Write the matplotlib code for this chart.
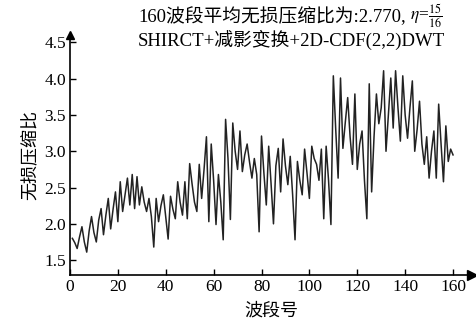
import matplotlib
matplotlib.use('Agg')
import matplotlib.pyplot as plt

plt.rcParams['font.family'] = ['Liberation Serif', 'Noto Sans CJK SC']
plt.rcParams['mathtext.fontset'] = 'stix'

# band number 1..160 and lossless compression ratio
bands = list(range(1, 161))
ratio = [
    1.80, 1.74, 1.66, 1.82, 1.96, 1.75, 1.61, 1.90, 2.10, 1.88,
    1.75, 2.05, 2.21, 1.85, 2.12, 2.35, 1.93, 2.20, 2.44, 2.03,
    2.58, 2.17, 2.40, 2.63, 2.26, 2.68, 2.21, 2.65, 2.26, 2.51,
    2.30, 2.17, 2.35, 2.10, 1.68, 2.35, 2.03, 2.25, 2.40, 2.10,
    1.79, 2.38, 2.20, 2.07, 2.58, 2.30, 2.12, 2.58, 2.07, 2.83,
    2.55, 2.30, 2.17, 2.82, 2.35, 2.75, 3.20, 2.03, 3.10, 2.60,
    1.99, 2.68, 2.30, 1.78, 3.44, 2.90, 2.06, 3.39, 3.00, 2.75,
    3.28, 2.72, 2.95, 3.10, 2.85, 2.63, 2.90, 2.68, 1.89, 3.21,
    2.70, 2.26, 3.07, 2.55, 2.00, 2.80, 3.04, 2.44, 3.17, 2.80,
    2.54, 2.93, 2.40, 1.78, 2.86, 2.60, 2.40, 3.03, 2.70, 2.35,
    3.07, 2.90, 2.82, 2.60, 3.03, 2.07, 3.07, 2.60, 1.99, 4.04,
    3.30, 2.63, 4.01, 3.04, 3.40, 3.74, 3.20, 2.82, 3.79, 2.75,
    3.10, 3.28, 2.60, 2.07, 3.93, 2.44, 3.20, 3.79, 3.38, 3.60,
    4.11, 3.00, 3.50, 4.01, 3.32, 4.11, 3.60, 3.14, 4.04, 3.50,
    3.18, 3.60, 3.97, 3.00, 3.30, 3.69, 3.10, 2.82, 3.20, 2.63,
    3.00, 3.28, 2.63, 3.65, 3.10, 2.58, 3.35, 2.86, 3.03, 2.95,
]

xticks = [0, 20, 40, 60, 80, 100, 120, 140, 160]
yticks = [1.5, 2.0, 2.5, 3.0, 3.5, 4.0, 4.5]

fig = plt.figure(figsize=(4.76, 3.29), dpi=100)
ax = fig.add_axes([0.147, 0.164, 0.845, 0.729])

ax.plot(bands, ratio, color='#222222', lw=1.1)

ax.set_xlim(0, 168)
ax.set_ylim(1.294, 4.6)
ax.set_xticks(xticks)
ax.set_yticks(yticks)
ax.set_yticklabels(['%.1f' % v for v in yticks])
ax.tick_params(direction='in', length=4, width=1, labelsize=12.5, pad=3)

for s in ['top', 'right']:
    ax.spines[s].set_visible(False)
for s in ['left', 'bottom']:
    ax.spines[s].set_linewidth(1.2)

# arrow heads on the axes
ax.plot(1, 0, '>', color='k', ms=7, transform=ax.transAxes, clip_on=False)
ax.plot(0, 1, '^', color='k', ms=6, transform=ax.transAxes, clip_on=False)

ax.set_xlabel('波段号', fontsize=13, labelpad=5)
ax.set_ylabel('无损压缩比', fontsize=13, labelpad=3)

t1 = fig.text(0.29, 0.948, '160波段平均无损压缩比为:2.770,',
              fontsize=13.5, va='center', ha='left')
ax.annotate(r'$\eta$=$\frac{15}{16}$', xy=(1, 0.5), xycoords=t1,
            xytext=(3, 0), textcoords='offset points',
            fontsize=12.5, va='center', ha='left')
fig.text(0.29, 0.880, 'SHIRCT+减影变换+2D-CDF(2,2)DWT',
         fontsize=13.5, va='center', ha='left')

fig.savefig('out.png', dpi=100)
